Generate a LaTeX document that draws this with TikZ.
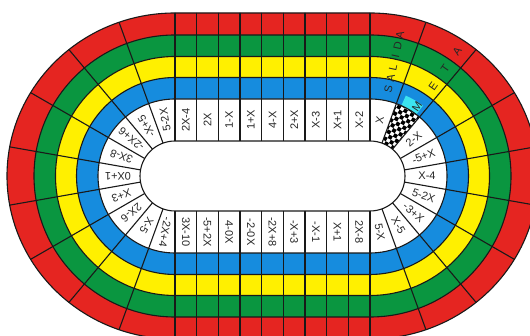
\documentclass[tikz,border=0pt]{standalone}
\usepackage{fontspec}
\setmainfont{Liberation Sans}
\definecolor{cRed}{RGB}{229,37,33}
\definecolor{cGreen}{RGB}{10,150,64}
\definecolor{cYellow}{RGB}{255,240,0}
\definecolor{cBlue}{RGB}{22,140,222}
\definecolor{cCyan}{RGB}{60,228,240}
\newcommand{\stad}[2]{(175,160+#1) -- (370,160+#1) arc[start angle=90,end angle=-90,x radius=#2,y radius=#1] -- (175,160-#1) arc[start angle=270,end angle=90,x radius=#2,y radius=#1] -- cycle}
\begin{document}
\begin{tikzpicture}[x=1pt,y=1pt,
  lbl/.style={font=\fontsize{11}{11}\selectfont, text=black!85, inner sep=0pt},
  letter/.style={font=\fontsize{11}{11}\selectfont, text=black!85, inner sep=0pt},
  gridline/.style={line width=1.1pt, draw=black!90}]
\useasboundingbox (0,0) rectangle (530,336);
\clip (0,0) rectangle (530,336);
\fill[white] (0,0) rectangle (530,336);
\coordinate (L) at (175,160);
\coordinate (R) at (370,160);
% bands
\fill[cRed] \stad{163}{168};
\fill[cGreen] \stad{141}{141};
\fill[cYellow] \stad{119.5}{119.5};
\fill[cBlue] \stad{98.5}{98.5};
\fill[white] \stad{77}{77};
% cyan patch
\fill[cCyan] ([shift={(53:77)}]R) arc[start angle=53,end angle=66,radius=77] -- ([shift={(66:88)}]R) arc[start angle=66,end angle=53,radius=88] -- cycle;
% checkered start cell
\begin{scope}
\clip ([shift={(50:35)}]R) -- ([shift={(50:77)}]R) arc[start angle=50,end angle=70,radius=77] -- ([shift={(70:35)}]R) arc[start angle=70,end angle=50,radius=35] -- cycle;
\begin{scope}[shift={(R)}, rotate=60]
\foreach \i in {8,10,...,22}{
  \foreach \j in {-7,-5,...,5}{
    \fill[black] ({\i*3.8},{\j*3.8}) rectangle ++(3.8,3.8);
    \fill[black] ({(\i+1)*3.8},{(\j+1)*3.8}) rectangle ++(3.8,3.8);
  }
}
\end{scope}
\end{scope}
% grid lines
\begin{scope}
\clip \stad{163}{168};
\foreach \k in {0,...,9}{
  \draw[gridline] (175+\k*21.6667,195) -- (175+\k*21.6667,340);
  \draw[gridline] (175+\k*21.6667,125) -- (175+\k*21.6667,-20);
}
\foreach \a in {110,130,...,250}
  \draw[gridline] ([shift={(\a:35)}]L) -- ([shift={(\a:200)}]L);
\foreach \a in {-70,-50,...,70}
  \draw[gridline] ([shift={(\a:35)}]R) -- ([shift={(\a:200)}]R);
\end{scope}
\foreach \r in {35,77,98.5,119.5,141}
  \draw[gridline] \stad{\r}{\r};
\draw[gridline] \stad{163}{168};
% labels, top straight
\foreach \t [count=\k from 0] in {2X-4,2X,1-X,1+X,4-X,2+X,X-3,X+1,X-2}
  \node[lbl, rotate=90] (top\k) at (175+\k*21.6667+10.8333,216) {\t};
% bottom straight
\foreach \t [count=\k from 0] in {3X-10,-5+2X,4-0X,-2-0X,-2X+8,-X+3,-X-1,X+1,2X-8}
  \node[lbl, rotate=-90] (bot\k) at (175+\k*21.6667+10.8333,104) {\t};
% left curve
\foreach \t [count=\k from 0] in {5-2X,-X+5,-2X+6,3X-8,0X+1,X+3,2X-6,X-5,-2X+4}{
  \pgfmathsetmacro\ang{100+20*\k}
  \node[lbl, rotate=\ang] (lc\k) at ([shift={(\ang:57)}]L) {\t};
}
% right curve
\node[lbl, rotate=80] (rcx) at ([shift={(80:57)}]R) {X};
\foreach \t [count=\k from 0] in {2-X,-5+X,X-4,5-2X,-3+X,X-5,5-X}{
  \pgfmathsetmacro\ang{40-20*\k}
  \node[lbl, rotate=\ang] (rc\k) at ([shift={(\ang:57)}]R) {\t};
}
% SALIDA and META
\foreach \l [count=\k from 0] in {S,A,L,I,D,A}
  \node[letter, rotate=78] (sal\k) at ([shift={(78:89+11*\k)}]R) {\l};
\node[letter, rotate=56] (m1) at ([shift={(56:84)}]R) {M};
\node[letter, rotate=55] (m2) at ([shift={(55:110)}]R) {E};
\node[letter, rotate=55] (m3) at ([shift={(55:131)}]R) {T};
\node[letter, rotate=55] (m4) at ([shift={(55:152)}]R) {A};
\end{tikzpicture}
\end{document}
